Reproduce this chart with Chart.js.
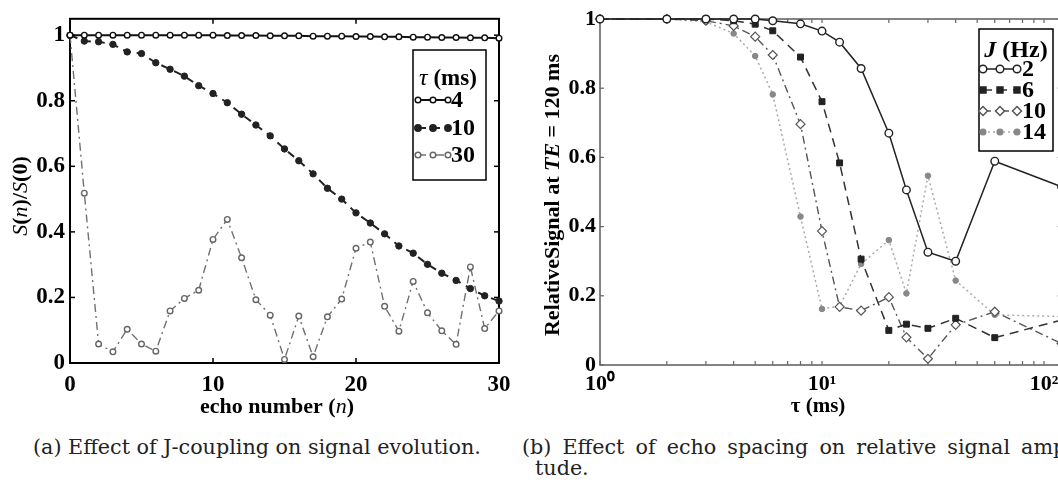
<!DOCTYPE html>
<html>
<head>
<meta charset="utf-8">
<script src="https://cdn.jsdelivr.net/npm/chart.js@4.4.1/dist/chart.umd.min.js"></script>
<style>
html, body { margin: 0; padding: 0; background: #fff; overflow: hidden; width: 1058px; height: 482px; }
#left { position: absolute; left: 0; top: 0; width: 530px; height: 420px; }
#right { position: absolute; left: 520px; top: 0; width: 560px; height: 420px; }
.cap { position: absolute; font-family: 'DejaVu Serif', serif; font-size: 20.7px; color: #222; white-space: nowrap; }
</style>
</head>
<body>
<div id="left"><canvas id="chartA"></canvas></div>
<div id="right"><canvas id="chartB"></canvas></div>
<div class="cap" style="left:33px; top:435px;">(a) Effect of J-coupling on signal evolution.</div>
<div class="cap" style="left:522px; top:435px; word-spacing:4.5px;">(b) Effect of echo spacing on relative signal ampli-</div>
<div class="cap" style="left:535px; top:456px;">tude.</div>
<script>
// (a) signal vs echo number, one series per echo spacing
const echoNumbers = [0,1,2,3,4,5,6,7,8,9,10,11,12,13,14,15,16,17,18,19,20,21,22,23,24,25,26,27,28,29,30];
const tau4 = [1,1,1,1,1,1,1,1,1,1,1,0.999,0.999,0.999,0.998,0.998,0.998,0.997,0.997,0.997,0.996,0.996,0.995,0.995,0.994,0.994,0.993,0.993,0.992,0.992,0.991];
const tau10 = [1,0.982,0.98,0.972,0.949,0.944,0.916,0.896,0.875,0.846,0.822,0.794,0.759,0.726,0.693,0.653,0.617,0.577,0.533,0.5,0.458,0.427,0.394,0.357,0.335,0.301,0.274,0.252,0.227,0.205,0.189];
const tau30 = [1,0.518,0.058,0.034,0.103,0.058,0.036,0.159,0.197,0.222,0.377,0.438,0.321,0.193,0.146,0.011,0.143,0.019,0.141,0.195,0.35,0.369,0.173,0.097,0.249,0.153,0.098,0.057,0.293,0.105,0.159];
const echoTicks = [0, 10, 20, 30];
const signalTicks = [0, 0.2, 0.4, 0.6, 0.8, 1];

// (b) relative signal at TE = 120 ms vs echo spacing, one series per J
const tauMs = [1,2,3,4,5,6,8,10,12,15,20,24,30,40,60,120];
const j2 = [1,1,1,1,1,0.995,0.986,0.965,0.933,0.857,0.67,0.506,0.326,0.30,0.589,0.515];
const j6 = [1,1,1,0.995,0.985,0.966,0.89,0.761,0.584,0.306,0.10,0.118,0.106,0.135,0.079,0.13];
const j10 = [1,1,0.995,0.98,0.949,0.896,0.696,0.387,0.168,0.157,0.196,0.08,0.018,0.116,0.154,0.062];
const j14 = [1,1,0.992,0.958,0.893,0.782,0.429,0.162,0.17,0.292,0.361,0.207,0.547,0.244,0.145,0.14];
const logTicks = [1,2,3,4,5,6,7,8,9,10,20,30,40,50,60,70,80,90,100];
const logLabels = { 1: '10\u2070', 10: '10\u00b9', 100: '10\u00b2' };

Chart.defaults.font.family = "'Liberation Serif', serif";
Chart.defaults.color = '#000';

const SERIF = "'Liberation Serif', serif";
const bold = (s) => 'bold ' + s + 'px ' + SERIF;
const ital = (s) => 'italic ' + s + 'px ' + SERIF;
const boldItal = (s) => 'italic bold ' + s + 'px ' + SERIF;

function pts(xs, ys) {
    return xs.map((x, i) => ({ x: x, y: ys[i] }));
}

// write a line made of differently styled pieces, centred on x,y
function drawRich(ctx, parts, x, y, rotate) {
    ctx.save();
    ctx.translate(x, y);
    if (rotate) ctx.rotate(-Math.PI / 2);
    ctx.textBaseline = 'middle';
    ctx.textAlign = 'left';
    let total = 0;
    parts.forEach(p => { ctx.font = p.font; total += ctx.measureText(p.text).width; });
    let cx = -total / 2;
    parts.forEach(p => {
        ctx.font = p.font;
        ctx.fillStyle = p.color || '#000';
        ctx.fillText(p.text, cx, 0);
        cx += ctx.measureText(p.text).width;
    });
    ctx.restore();
}

function drawMarker(ctx, ds, x, y) {
    ctx.save();
    ctx.setLineDash([]);
    ctx.fillStyle = ds.pointBackgroundColor;
    ctx.strokeStyle = ds.pointBorderColor;
    Chart.helpers.drawPoint(ctx, {
        pointStyle: ds.pointStyle, radius: ds.pointRadius, rotation: 0,
        borderWidth: ds.pointBorderWidth
    }, x, y);
    ctx.restore();
}

// box round the plot with matlab style inward ticks
const framePlugin = {
    id: 'frame',
    beforeDatasetsDraw(chart, args, opts) {
        const { ctx, chartArea: a, scales } = chart;
        ctx.save();
        ctx.strokeStyle = opts.color;
        ctx.lineWidth = opts.tickWidth;
        const line = (x1, y1, x2, y2) => { ctx.beginPath(); ctx.moveTo(x1, y1); ctx.lineTo(x2, y2); ctx.stroke(); };
        scales.x.ticks.forEach(t => {
            const px = scales.x.getPixelForValue(t.value);
            line(px, a.bottom, px, a.bottom - opts.tickLen);
            line(px, a.top, px, a.top + opts.tickLen);
        });
        scales.y.ticks.forEach(t => {
            const py = scales.y.getPixelForValue(t.value);
            line(a.left, py, a.left + opts.tickLen, py);
            line(a.right, py, a.right - opts.tickLen, py);
        });
        ctx.lineWidth = opts.width;
        ctx.strokeRect(a.left, a.top, a.right - a.left, a.bottom - a.top);
        ctx.restore();
    },
    afterDraw(chart, args, opts) {
        const ctx = chart.ctx;
        (opts.titles || []).forEach(t => drawRich(ctx, t.parts, t.x, t.y, t.rotate));
        const lg = opts.legend;
        if (!lg) return;
        ctx.save();
        ctx.fillStyle = '#fff';
        ctx.fillRect(lg.x, lg.y, lg.w, lg.h);
        ctx.strokeStyle = '#000';
        ctx.lineWidth = 1.5;
        ctx.strokeRect(lg.x, lg.y, lg.w, lg.h);
        drawRich(ctx, lg.title, lg.titleX, lg.titleY, false);
        chart.data.datasets.forEach((ds, i) => {
            const y = lg.rows[i];
            ctx.save();
            ctx.strokeStyle = ds.borderColor;
            ctx.lineWidth = ds.borderWidth;
            ctx.setLineDash(ds.borderDash || []);
            ctx.beginPath();
            ctx.moveTo(lg.x0, y);
            ctx.lineTo(lg.x1, y);
            ctx.stroke();
            ctx.restore();
            drawMarker(ctx, ds, lg.x0, y);
            drawMarker(ctx, ds, (lg.x0 + lg.x1) / 2, y);
            drawMarker(ctx, ds, lg.x1, y);
            ctx.save();
            ctx.font = lg.font;
            ctx.fillStyle = '#000';
            ctx.textBaseline = 'middle';
            ctx.fillText(ds.label, lg.labelX, y + 1);
            ctx.restore();
        });
        ctx.restore();
    }
};

new Chart(document.getElementById('chartA'), {
    type: 'line',
    data: {
        datasets: [{
            label: '4',
            data: pts(echoNumbers, tau4),
            borderColor: '#111', borderWidth: 2,
            pointStyle: 'circle', pointRadius: 2.8, pointBorderWidth: 1.4,
            pointBackgroundColor: '#fff', pointBorderColor: '#111',
            clip: false
        }, {
            label: '10',
            data: pts(echoNumbers, tau10),
            borderColor: '#222', borderWidth: 2, borderDash: [8, 6],
            pointStyle: 'circle', pointRadius: 3.2, pointBorderWidth: 1,
            pointBackgroundColor: '#222', pointBorderColor: '#222',
            clip: false
        }, {
            label: '30',
            data: pts(echoNumbers, tau30),
            borderColor: '#707070', borderWidth: 1.4, borderDash: [8, 4, 2, 4],
            pointStyle: 'circle', pointRadius: 2.8, pointBorderWidth: 1.4,
            pointBackgroundColor: '#fff', pointBorderColor: '#666',
            clip: false
        }]
    },
    options: {
        responsive: true,
        maintainAspectRatio: false,
        animation: false,
        layout: { padding: { top: 17, right: 31, left: 0, bottom: 0 } },
        plugins: {
            legend: { display: false },
            tooltip: { enabled: false },
            frame: {
                color: '#000', width: 2, tickWidth: 1.5, tickLen: 5,
                titles: [
                    { parts: [{ text: 'echo number (', font: bold(22) }, { text: 'n', font: ital(22) }, { text: ')', font: bold(22) }], x: 277, y: 407 },
                    { parts: [{ text: 'S', font: ital(22) }, { text: '(', font: bold(22) }, { text: 'n', font: ital(22) }, { text: ')/', font: bold(22) },
                              { text: 'S', font: ital(22) }, { text: '(0)', font: bold(22) }], x: 21, y: 196, rotate: true }
                ],
                legend: {
                    x: 413, y: 50, w: 73, h: 130,
                    title: [{ text: '\u03c4', font: ital(24) }, { text: ' (ms)', font: bold(23) }],
                    titleX: 448, titleY: 79,
                    rows: [100, 128, 155], x0: 418, x1: 448, labelX: 451, font: bold(24)
                }
            }
        },
        scales: {
            x: {
                type: 'linear', min: 0, max: 30,
                afterFit: (s) => { s.height = 57; },
                afterBuildTicks: (s) => { s.ticks = echoTicks.map(v => ({ value: v })); },
                ticks: { font: { size: 23, weight: 'bold' }, color: '#000', padding: 8, maxRotation: 0, autoSkip: false },
                grid: { display: false, drawTicks: false },
                border: { display: false }
            },
            y: {
                min: 0, max: 1.05,
                afterFit: (s) => { s.width = 70; },
                afterBuildTicks: (s) => { s.ticks = signalTicks.map(v => ({ value: v })); },
                ticks: { font: { size: 23, weight: 'bold' }, color: '#000', padding: 5, callback: (v) => String(v) },
                grid: { display: false, drawTicks: false },
                border: { display: false }
            }
        }
    },
    plugins: [framePlugin]
});

new Chart(document.getElementById('chartB'), {
    type: 'line',
    data: {
        datasets: [{
            label: '2',
            data: pts(tauMs, j2),
            borderColor: '#222', borderWidth: 1.5,
            pointStyle: 'circle', pointRadius: 3.8, pointBorderWidth: 1.4,
            pointBackgroundColor: '#fff', pointBorderColor: '#222',
            clip: false
        }, {
            label: '6',
            data: pts(tauMs, j6),
            borderColor: '#333', borderWidth: 1.5, borderDash: [9, 6],
            pointStyle: 'rect', pointRadius: 4.2, pointBorderWidth: 1,
            pointBackgroundColor: '#222', pointBorderColor: '#222',
            clip: false
        }, {
            label: '10',
            data: pts(tauMs, j10),
            borderColor: '#555', borderWidth: 1.4, borderDash: [8, 4, 2, 4],
            pointStyle: 'rectRot', pointRadius: 4.5, pointBorderWidth: 1.2,
            pointBackgroundColor: '#fff', pointBorderColor: '#555',
            clip: false
        }, {
            label: '14',
            data: pts(tauMs, j14),
            borderColor: '#aaa', borderWidth: 1.5, borderDash: [2, 3],
            pointStyle: 'circle', pointRadius: 2.8, pointBorderWidth: 1,
            pointBackgroundColor: '#888', pointBorderColor: '#888',
            clip: false
        }]
    },
    options: {
        responsive: true,
        maintainAspectRatio: false,
        animation: false,
        layout: { padding: { top: 19, right: 18.4, left: 0, bottom: 0 } },
        plugins: {
            legend: { display: false },
            tooltip: { enabled: false },
            frame: {
                color: '#666', width: 1.6, tickWidth: 1.2, tickLen: 4,
                titles: [
                    { parts: [{ text: '\u03c4', font: bold(21) }, { text: ' (ms)', font: bold(21) }], x: 298, y: 407 },
                    { parts: [{ text: 'RelativeSignal at ', font: bold(22) }, { text: 'TE', font: boldItal(22) }, { text: ' = 120 ms', font: bold(22) }],
                      x: 33, y: 195, rotate: true }
                ],
                legend: {
                    x: 459, y: 29, w: 74, h: 122,
                    title: [{ text: 'J', font: boldItal(24) }, { text: ' (Hz)', font: bold(24) }],
                    titleX: 496, titleY: 51,
                    rows: [69, 90, 111, 132], x0: 463, x1: 497, labelX: 502, font: bold(24)
                }
            }
        },
        scales: {
            x: {
                type: 'logarithmic', min: 1, max: 120,
                afterFit: (s) => { s.height = 55; },
                afterBuildTicks: (s) => { s.ticks = logTicks.map(v => ({ value: v })); },
                ticks: {
                    font: { size: 22, weight: 'bold' }, color: '#000', padding: 6, maxRotation: 0, autoSkip: false,
                    callback: (v) => logLabels[v] || ''
                },
                grid: { display: false, drawTicks: false },
                border: { display: false }
            },
            y: {
                min: 0, max: 1,
                afterFit: (s) => { s.width = 80; },
                afterBuildTicks: (s) => { s.ticks = signalTicks.map(v => ({ value: v })); },
                ticks: { font: { size: 22, weight: 'bold' }, color: '#000', padding: 4, callback: (v) => String(v) },
                grid: { display: false, drawTicks: false },
                border: { display: false }
            }
        }
    },
    plugins: [framePlugin]
});
</script>
</body>
</html>
